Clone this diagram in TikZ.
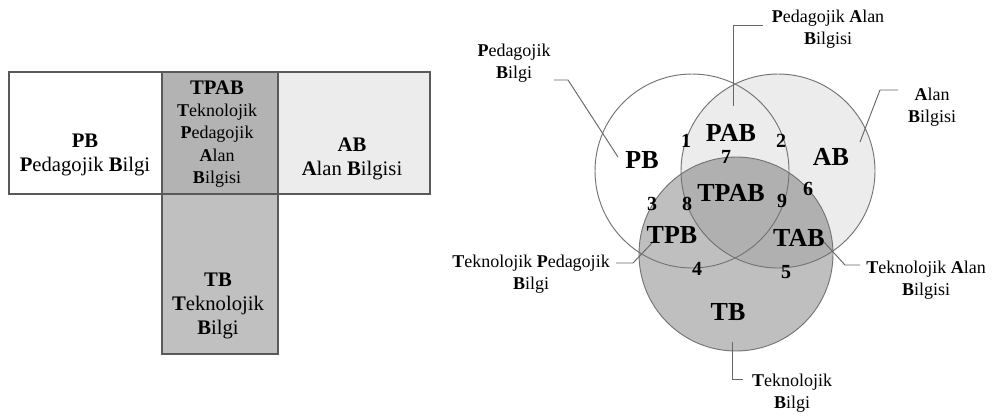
\documentclass[tikz,border=0pt]{standalone}
\usepackage{fontspec}
\setmainfont{Liberation Serif}
\definecolor{abfill}{HTML}{ECECEC}
\definecolor{tpabfill}{HTML}{B3B3B3}
\definecolor{tbfill}{HTML}{C0C0C0}
\begin{document}
\begin{tikzpicture}[x=0.75pt,y=-0.75pt,
  box/.style={draw=black!65, line width=0.9pt},
  ring/.style={draw=black!55, line width=0.7pt},
  lead/.style={draw=black!60, line width=0.7pt},
  big/.style={font=\fontsize{19.5}{20}\selectfont\bfseries, inner sep=0pt},
  num/.style={font=\fontsize{15}{16}\selectfont\bfseries, inner sep=0pt},
  call/.style={font=\fontsize{13.5}{16.5}\selectfont, align=center, inner sep=0pt},
  cell/.style={font=\fontsize{15.5}{18}\selectfont, align=center, inner sep=0pt},
  smallcell/.style={font=\fontsize{13.5}{16.8}\selectfont, align=center, inner sep=0pt},
]
\useasboundingbox (0,0) rectangle (992,415);

% --- T-shaped table of knowledge areas ---
\fill[white]    (9,72)    rectangle (162,194);
\fill[tpabfill] (162,72)  rectangle (278,194);
\fill[abfill]   (278,72)  rectangle (430,194);
\fill[tbfill]   (162,194) rectangle (278,354);
\draw[box] (9,72) rectangle (430,194);
\draw[box] (162,72) rectangle (278,354);

\node[cell] (pbcell) at (85,155) {\textbf{PB}\\\textbf{P}edagojik \textbf{B}ilgi};
\node[cell] (abcell) at (352,159) {\textbf{AB}\\\textbf{A}lan \textbf{B}ilgisi};
\node[smallcell] (tpabcell) at (217,134)
  {{\fontsize{15.5}{16.8}\selectfont\textbf{TPAB}}\\\textbf{T}eknolojik\\\textbf{P}edagojik\\\textbf{A}lan\\\textbf{B}ilgisi};
\node[cell] (tbcell) at (218,306) {\textbf{TB}\\\textbf{T}eknolojik\\\textbf{B}ilgi};

% --- Venn diagram: fills first, outlines on top ---
\fill[abfill] (778,171) circle (97);
\fill[black, opacity=0.25] (736,254) circle (97);
\draw[ring] (692,171) circle (97);
\draw[ring] (778,171) circle (97);
\draw[ring] (736,254) circle (97);

\node[big] (vpb)   at (642,160) {PB};
\node[big] (vpab)  at (731,133) {PAB};
\node[big] (vab)   at (831,157) {AB};
\node[big] (vtpab) at (731,193) {TPAB};
\node[big] (vtpb)  at (672,235) {TPB};
\node[big] (vtab)  at (799,238) {TAB};
\node[big] (vtb)   at (728,312) {TB};

\node[num] (n1) at (686,141) {1};
\node[num] (n2) at (781,141) {2};
\node[num] (n7) at (726,157) {7};
\node[num] (n6) at (808,189) {6};
\node[num] (n3) at (652,204) {3};
\node[num] (n8) at (687,204) {8};
\node[num] (n9) at (782,201) {9};
\node[num] (n4) at (697,269) {4};
\node[num] (n5) at (786,272) {5};

% --- callout texts ---
\node[call] (cpb)  at (514,63)  {\textbf{P}edagojik\\\textbf{B}ilgi};
\node[call] (cpab) at (828,29)  {\textbf{P}edagojik \textbf{A}lan\\\textbf{B}ilgisi};
\node[call] (cab)  at (932,107) {\textbf{A}lan\\\textbf{B}ilgisi};
\node[call] (ctpb) at (531,274) {\textbf{T}eknolojik \textbf{P}edagojik\\\textbf{B}ilgi};
\node[call] (ctab) at (926,280) {\textbf{T}eknolojik \textbf{A}lan\\\textbf{B}ilgisi};
\node[call] (ctb)  at (792,393) {\textbf{T}eknolojik\\\textbf{B}ilgi};

% leader line end points
\coordinate (lpb0) at (554,80);   \coordinate (lpb1) at (618,157);
\coordinate (lpab0) at (763,25);  \coordinate (lpab1) at (733,106);
\coordinate (lab0) at (898,90);   \coordinate (lab1) at (860,142);
\coordinate (ltpb0) at (616,263); \coordinate (ltpb1) at (652,243);
\coordinate (ltab0) at (860,265); \coordinate (ltab1) at (824,242);
\coordinate (ltb0) at (743,379);  \coordinate (ltb1) at (732,342);

\draw[lead] (lpb0) -- ++(14,0) -- (lpb1);
\draw[lead] (lpab0) -- (lpab1 |- lpab0) -- (lpab1);
\draw[lead] (lab0) -- ++(-18,0) -- (lab1);
\draw[lead] (ltpb0) -- ++(17,0) -- (ltpb1);
\draw[lead] (ltab0) -- ++(-15,0) -- (ltab1);
\draw[lead] (ltb0) -- (ltb1 |- ltb0) -- (ltb1);
\end{tikzpicture}
\end{document}
